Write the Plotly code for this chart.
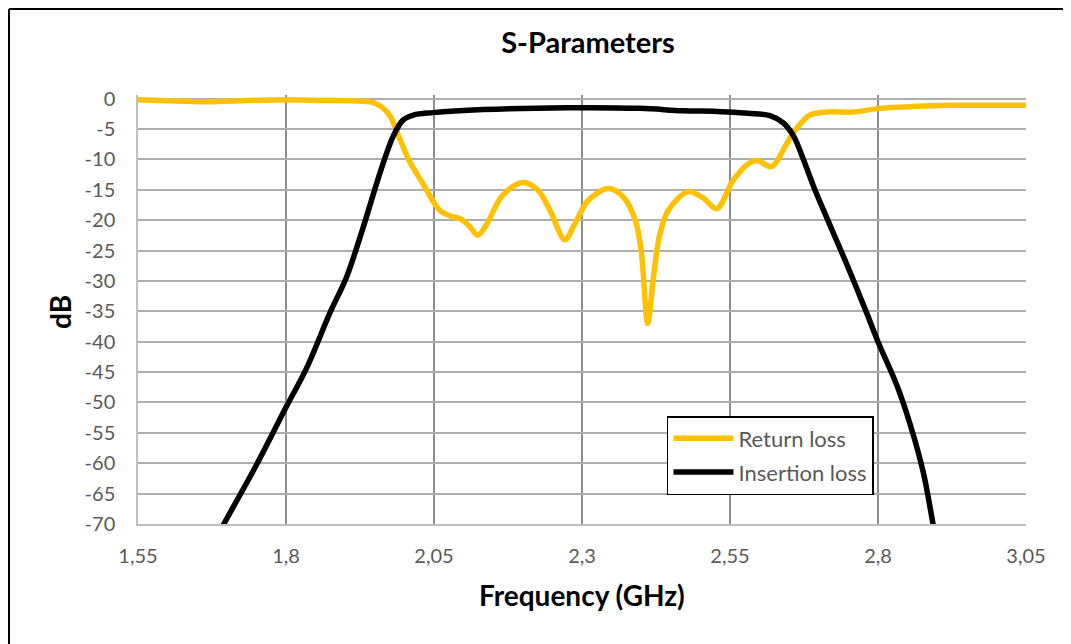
import plotly.graph_objects as go

# Return loss (S11)
rl_freq = [1.55, 1.60, 1.66, 1.72, 1.80, 1.86, 1.91, 1.947, 1.962, 1.976, 1.993, 2.009, 2.03,
           2.06, 2.08, 2.095, 2.11, 2.124, 2.14, 2.165, 2.199, 2.225, 2.246, 2.271, 2.29, 2.31,
           2.344, 2.37, 2.39, 2.40, 2.411, 2.42, 2.43, 2.445, 2.479, 2.504, 2.528, 2.555, 2.58,
           2.597, 2.62, 2.646, 2.66, 2.685, 2.713, 2.758, 2.803, 2.86, 2.92, 3.05]
rl_db = [-0.2, -0.35, -0.5, -0.35, -0.2, -0.3, -0.35, -0.6, -1.4, -2.9, -6.8, -10.4, -13.8,
         -18.4, -19.4, -19.8, -21.0, -22.5, -20.5, -16.0, -13.8, -15.0, -18.4, -23.2, -20.2,
         -16.8, -14.8, -16.2, -20.0, -25.0, -37.0, -30.0, -23.0, -18.5, -15.3, -16.3, -18.1,
         -13.5, -10.8, -10.2, -11.2, -7.4, -5.2, -2.7, -2.2, -2.2, -1.6, -1.3, -1.1, -1.1]

# Insertion loss (S21)
il_freq = [1.67, 1.695, 1.75, 1.80, 1.835, 1.874, 1.9025, 1.9306, 1.9588, 1.981, 1.998, 2.015,
           2.048, 2.133, 2.275, 2.398, 2.471, 2.528, 2.58, 2.6176, 2.64, 2.657, 2.674, 2.691,
           2.713, 2.747, 2.781, 2.80, 2.832, 2.854, 2.877, 2.893, 2.905]
il_db = [-74.5, -70.0, -60.3, -50.8, -44.3, -35.3, -29.3, -21.1, -12.2, -6.2, -3.5, -2.7,
         -2.3, -1.8, -1.5, -1.6, -2.0, -2.1, -2.4, -2.8, -4.0, -6.1, -10.0, -14.4,
         -19.5, -27.2, -35.3, -40.0, -47.2, -53.5, -61.7, -70.0, -76.0]

x_tickvals = [1.55, 1.8, 2.05, 2.3, 2.55, 2.8, 3.05]
x_ticktext = ["1,55", "1,8", "2,05", "2,3", "2,55", "2,8", "3,05"]
y_tickvals = [0, -5, -10, -15, -20, -25, -30, -35, -40, -45, -50, -55, -60, -65, -70]
y_ticktext = ["0", "-5", "-10", "-15", "-20", "-25", "-30", "-35", "-40", "-45", "-50",
              "-55", "-60", "-65", "-70"]

FONT = "Lato"
GRAY = "#595959"

W, H = 1063, 636
L, T, PW, PH = 130, 87, 888, 429
R, B = W - L - PW, H - T - PH

fig = go.Figure()
fig.add_trace(go.Scatter(x=rl_freq, y=rl_db, mode="lines", name="Return loss",
                         legendgroup="rl",
                         line=dict(color="#FFC000", width=5.5, shape="spline", smoothing=0.9)))
fig.add_trace(go.Scatter(x=il_freq, y=il_db, mode="lines", name="Insertion loss",
                         legendgroup="il",
                         line=dict(color="#000000", width=5.5, shape="spline", smoothing=1.0)))

fig.update_layout(
    width=W, height=H,
    margin=dict(l=L, r=R, t=T, b=B),
    paper_bgcolor="white", plot_bgcolor="white",
    font=dict(family=FONT, color=GRAY, size=20),
    title=dict(text="<b>S-Parameters</b>", x=580 / W, xanchor="center", y=1 - 35 / H,
               yanchor="middle", yref="container",
               font=dict(family=FONT, size=29, color="#000000")),
    showlegend=True,
    legend=dict(x=0.5957, y=0.2517, xanchor="left", yanchor="top",
                bgcolor="white", bordercolor="#000000", borderwidth=1.5,
                font=dict(family=FONT, size=22, color=GRAY),
                itemwidth=60, tracegroupgap=2),
)

fig.update_xaxes(range=[1.55, 3.05], tickvals=x_tickvals, ticktext=x_ticktext,
                 showgrid=True, gridcolor="#8C8C8C", gridwidth=1.5,
                 showline=True, linecolor="#BFBFBF", linewidth=1.5,
                 zeroline=False, ticks="", ticklabelstandoff=13,
                 tickfont=dict(family=FONT, size=20, color=GRAY))
fig.update_yaxes(range=[-70, 0.6], tickvals=y_tickvals, ticktext=y_ticktext,
                 showgrid=True, gridcolor="#ADADAD", gridwidth=1.5,
                 showline=True, linecolor="#BFBFBF", linewidth=1.5,
                 zeroline=False, ticks="", ticklabelstandoff=17,
                 tickfont=dict(family=FONT, size=20, color=GRAY))

fig.add_annotation(text="<b>Frequency (GHz)</b>", xref="paper", yref="paper",
                   x=0.5, y=(524 - 595) / 429, xanchor="center", yanchor="middle",
                   showarrow=False, font=dict(family=FONT, size=28, color="#000000"))
fig.add_annotation(text="<b>dB</b>", xref="paper", yref="paper",
                   x=(60 - 138) / 888, y=(524 - 312) / 429, xanchor="center", yanchor="middle",
                   textangle=-90, showarrow=False,
                   font=dict(family=FONT, size=28, color="#000000"))

# outer chart border (top and left edges visible)
bx0 = (1 - L) / PW
bx1 = (W - L) / PW
by0 = (T + PH - 1) / PH
by1 = -B / PH
fig.add_shape(type="line", xref="paper", yref="paper", x0=bx0, x1=bx1, y0=by0, y1=by0,
              line=dict(color="#000000", width=2))
fig.add_shape(type="line", xref="paper", yref="paper", x0=bx0, x1=bx0, y0=by0, y1=by1,
              line=dict(color="#000000", width=2))

fig.write_html("out.html")
